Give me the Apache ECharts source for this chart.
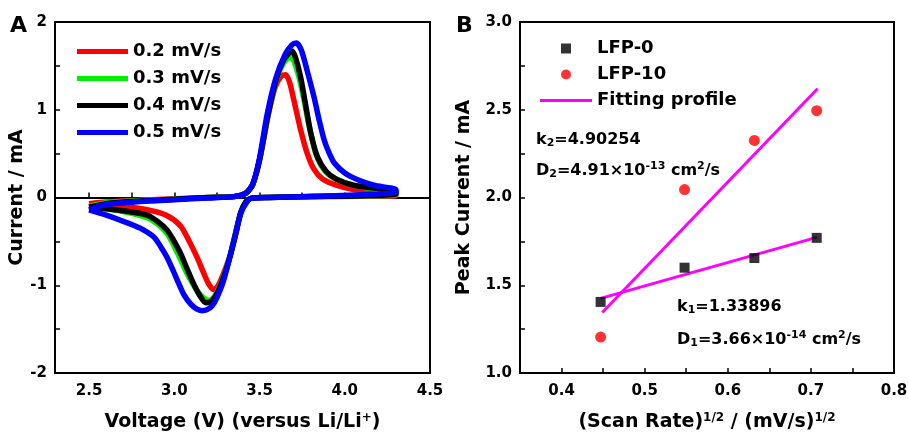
<!DOCTYPE html>
<html><head><meta charset="utf-8">
<script src="https://cdn.jsdelivr.net/npm/echarts@6/dist/echarts.min.js"></script>
<style>html,body{margin:0;padding:0;background:#fff}#c{width:909px;height:432px}</style>
</head><body><div id="c"></div>
<script>
// ---- Panel A : CV curves (voltage V, current mA) ----
const cvNames = ['0.2 mV/s', '0.3 mV/s', '0.4 mV/s', '0.5 mV/s'];
const cv02 = [[2.5,-0.07],[2.6,-0.05],[2.8,-0.03],[3.0,-0.015],[3.2,0.0],[3.35,0.01],[3.42,0.05],[3.46,0.15],[3.5,0.42],[3.55,0.93],[3.59,1.25],[3.625,1.38],[3.652,1.40],[3.675,1.32],[3.7,1.12],[3.74,0.78],[3.78,0.5],[3.82,0.32],[3.87,0.21],[3.95,0.14],[4.05,0.09],[4.2,0.06],[4.3,0.04],
  [4.3,0.02],[4.1,0.015],[3.8,0.01],[3.55,0.0],[3.45,-0.01],[3.42,-0.05],[3.39,-0.17],[3.36,-0.4],[3.33,-0.64],[3.29,-0.86],[3.255,-1.01],[3.232,-1.05],[3.2,-0.98],[3.17,-0.85],[3.133,-0.68],[3.08,-0.47],[3.035,-0.32],[2.95,-0.2],[2.84,-0.14],[2.7,-0.1],[2.5,-0.07]];
const cv03 = [[2.5,-0.1],[2.6,-0.06],[2.8,-0.035],[3.0,-0.02],[3.2,0.0],[3.35,0.01],[3.42,0.05],[3.46,0.15],[3.5,0.43],[3.55,0.95],[3.6,1.35],[3.64,1.53],[3.678,1.6],[3.7,1.56],[3.73,1.38],[3.76,1.12],[3.79,0.82],[3.83,0.5],[3.88,0.31],[3.94,0.22],[4.05,0.14],[4.2,0.09],[4.3,0.06],
  [4.3,0.03],[4.1,0.02],[3.8,0.01],[3.55,0.0],[3.45,-0.01],[3.42,-0.05],[3.39,-0.17],[3.36,-0.4],[3.33,-0.64],[3.29,-0.9],[3.25,-1.08],[3.22,-1.16],[3.198,-1.17],[3.17,-1.14],[3.14,-1.08],[3.11,-0.99],[3.07,-0.85],[3.035,-0.7],[2.99,-0.52],[2.957,-0.41],[2.9,-0.3],[2.84,-0.23],[2.7,-0.16],[2.5,-0.1]];
const cv04 = [[2.5,-0.11],[2.6,-0.07],[2.8,-0.04],[3.0,-0.02],[3.2,0.0],[3.35,0.01],[3.42,0.05],[3.46,0.15],[3.5,0.43],[3.55,0.95],[3.6,1.36],[3.645,1.58],[3.69,1.67],[3.71,1.6],[3.74,1.38],[3.77,1.06],[3.8,0.74],[3.84,0.46],[3.89,0.3],[3.95,0.21],[4.05,0.14],[4.2,0.1],[4.3,0.07],
  [4.3,0.04],[4.1,0.02],[3.8,0.01],[3.55,0.0],[3.45,-0.01],[3.42,-0.05],[3.39,-0.17],[3.36,-0.42],[3.32,-0.72],[3.28,-0.96],[3.24,-1.13],[3.21,-1.19],[3.185,-1.2],[3.15,-1.12],[3.11,-0.97],[3.07,-0.79],[3.035,-0.63],[2.99,-0.47],[2.957,-0.37],[2.9,-0.27],[2.84,-0.2],[2.7,-0.15],[2.5,-0.11]];
const cv05 = [[2.5,-0.14],[2.6,-0.08],[2.8,-0.045],[3.0,-0.025],[3.2,-0.005],[3.35,0.01],[3.42,0.05],[3.46,0.15],[3.5,0.45],[3.545,0.95],[3.594,1.35],[3.65,1.63],[3.69,1.74],[3.716,1.76],[3.745,1.68],[3.78,1.44],[3.82,1.14],[3.85,0.88],[3.88,0.65],[3.91,0.5],[3.94,0.39],[4.0,0.28],[4.08,0.2],[4.17,0.14],[4.3,0.09],
  [4.3,0.06],[4.1,0.03],[3.8,0.01],[3.55,0.0],[3.45,-0.01],[3.43,-0.04],[3.39,-0.18],[3.35,-0.49],[3.29,-0.94],[3.25,-1.14],[3.22,-1.24],[3.19,-1.28],[3.163,-1.29],[3.13,-1.27],[3.094,-1.21],[3.06,-1.12],[3.035,-1.02],[2.99,-0.82],[2.957,-0.68],[2.92,-0.56],[2.88,-0.45],[2.8,-0.35],[2.74,-0.3],[2.6,-0.2],[2.5,-0.14]];
const cvColors = ['#ff0000', '#00ee00', '#000000', '#0000ff'];
const aXLabels = [2.5, 3.0, 3.5, 4.0, 4.5];
const aXTicks = [2.5, 2.75, 3.0, 3.25, 3.5, 3.75, 4.0, 4.25, 4.5];

// ---- Panel B : peak current vs sqrt(scan rate) ----
const sqrtRate = [0.447, 0.548, 0.632, 0.707];
const lfp0 = [1.405, 1.60, 1.655, 1.77];
const lfp10 = [1.205, 2.045, 2.325, 2.495];
const fit0 = [[0.447, 1.425], [0.707, 1.773]];
const fit10 = [[0.449, 1.345], [0.708, 2.62]];
const bXLabels = [0.4, 0.5, 0.6, 0.7, 0.8];
const bXTicks = [0.4, 0.45, 0.5, 0.55, 0.6, 0.65, 0.7, 0.75, 0.8];

const FONT = '"DejaVu Sans", sans-serif';
const lbl = {color:'#000', fontWeight:'bold', fontSize:15, fontFamily:FONT};
const axLine = {show:true, lineStyle:{color:'#000', width:2}};
const tick = {inside:true, length:5, lineStyle:{color:'#000', width:1.5}};
const supStyle = {fontSize:11, fontWeight:'bold', fontFamily:FONT, color:'#000', verticalAlign:'top', padding:[0,0,8,0]};
const supRich = {
  sup:supStyle,
  sub:{fontSize:11, fontWeight:'bold', fontFamily:FONT, color:'#000', verticalAlign:'bottom', padding:[6,0,0,0]},
  n:{fontSize:16, fontWeight:'bold', fontFamily:FONT, color:'#000'}
};
const legText = {fontSize:18, fontWeight:'bold', fontFamily:FONT, color:'#000', lineHeight:21};

const chart = echarts.init(document.getElementById('c'), null, {renderer:'canvas'});
const series = [];
cvNames.forEach((n, i) => {
  series.push({name:n, type:'line', xAxisIndex:0, yAxisIndex:0, data:[cv02, cv03, cv04, cv05][i],
    showSymbol:false, symbol:'none', smooth:0.25, lineStyle:{color:cvColors[i], width:5.5}, itemStyle:{color:cvColors[i]}, z:2+i});
});
series.push({name:'LFP-0', type:'scatter', xAxisIndex:1, yAxisIndex:1, data:sqrtRate.map((x,i)=>[x, lfp0[i]]),
  symbol:'rect', symbolSize:10, itemStyle:{color:'#000'}, z:5});
series.push({name:'LFP-10', type:'scatter', xAxisIndex:1, yAxisIndex:1, data:sqrtRate.map((x,i)=>[x, lfp10[i]]),
  symbol:'circle', symbolSize:11, itemStyle:{color:'#ff0000'}, z:5});
series.push({name:'Fitting profile', type:'line', xAxisIndex:1, yAxisIndex:1, data:fit0, showSymbol:false, symbol:'none',
  lineStyle:{color:'#ff00ff', width:3}, itemStyle:{color:'#ff00ff'}, z:4});
series.push({name:'Fitting profile', type:'line', xAxisIndex:1, yAxisIndex:1, data:fit10, showSymbol:false, symbol:'none',
  lineStyle:{color:'#ff00ff', width:3}, itemStyle:{color:'#ff00ff'}, z:4});

const nameStyle = {fontSize:19, fontWeight:'bold', fontFamily:FONT, color:'#000', rich:{sup:Object.assign({}, supStyle, {fontSize:12})}};

const option = {
  animation:false,
  backgroundColor:'#fff',
  grid:[
    {left:55, top:22, width:375, height:351, outerBoundsMode:'none', containLabel:false, show:true, borderColor:'#000', borderWidth:2, backgroundColor:'transparent'},
    {left:520, top:22, width:374, height:351, outerBoundsMode:'none', containLabel:false, show:true, borderColor:'#000', borderWidth:2, backgroundColor:'transparent'}
  ],
  xAxis:[
    {type:'value', gridIndex:0, min:2.3, max:4.5, splitLine:{show:false}, axisLine:axLine,
     axisTick:Object.assign({customValues:aXTicks}, tick),
     axisLabel:Object.assign({customValues:aXLabels, margin:11, formatter:v=>v.toFixed(1)}, lbl),
     name:'Voltage (V) (versus Li/Li{sup|+})', nameLocation:'middle', nameGap:39, nameTextStyle:nameStyle},
    {type:'value', gridIndex:1, min:0.35, max:0.8, splitLine:{show:false}, axisLine:axLine,
     axisTick:Object.assign({customValues:bXTicks}, tick),
     axisLabel:Object.assign({customValues:bXLabels, margin:11, formatter:v=>v.toFixed(1)}, lbl),
     name:'(Scan Rate){sup|1/2} / (mV/s){sup|1/2}', nameLocation:'middle', nameGap:39, nameTextStyle:nameStyle}
  ],
  yAxis:[
    {type:'value', gridIndex:0, min:-2, max:2, interval:0.5, splitLine:{show:false}, axisLine:axLine, axisTick:tick,
     axisLabel:Object.assign({margin:8, formatter:v=>Number.isInteger(v)?String(v):''}, lbl),
     name:'Current / mA', nameLocation:'middle', nameGap:24, nameRotate:90, nameTextStyle:nameStyle},
    {type:'value', gridIndex:1, min:1, max:3, interval:0.25, splitLine:{show:false}, axisLine:axLine, axisTick:tick,
     axisLabel:Object.assign({margin:8, formatter:v=>(Math.abs(v*2-Math.round(v*2))<1e-6)?v.toFixed(1):''}, lbl),
     name:'Peak Current / mA', nameLocation:'middle', nameGap:46, nameRotate:90, nameTextStyle:nameStyle}
  ],
  legend:[
    {data:cvNames, icon:'rect', orient:'vertical', left:77, top:41, padding:0, itemWidth:51, itemHeight:5, itemGap:6,
     textStyle:legText},
    {data:['LFP-0'], icon:'rect', left:561, top:38, padding:0, itemWidth:10, itemHeight:10,
     textStyle:Object.assign({padding:[0,0,0,21]}, legText)},
    {data:['LFP-10'], icon:'circle', left:561, top:64, padding:0, itemWidth:10, itemHeight:10,
     textStyle:Object.assign({padding:[0,0,0,21]}, legText)},
    {data:['Fitting profile'], icon:'rect', left:540, top:90, padding:0, itemWidth:52, itemHeight:3,
     textStyle:legText}
  ],
  graphic:[
    {type:'text', x:10, y:26, style:{text:'A', font:'bold 22px '+FONT, fill:'#000', verticalAlign:'middle'}},
    {type:'text', x:456, y:26, style:{text:'B', font:'bold 22px '+FONT, fill:'#000', verticalAlign:'middle'}},
    {type:'text', left:536, top:132, style:{text:'{n|k}{sub|2}{n|=4.90254}', rich:supRich}},
    {type:'text', left:536, top:161, style:{text:'{n|D}{sub|2}{n|=4.91×10}{sup|-13}{n| cm}{sup|2}{n|/s}', rich:supRich}},
    {type:'text', left:677, top:299, style:{text:'{n|k}{sub|1}{n|=1.33896}', rich:supRich}},
    {type:'text', left:677, top:330, style:{text:'{n|D}{sub|1}{n|=3.66×10}{sup|-14}{n| cm}{sup|2}{n|/s}', rich:supRich}}
  ],
  series:series
};
chart.setOption(option);
</script>
</body></html>
